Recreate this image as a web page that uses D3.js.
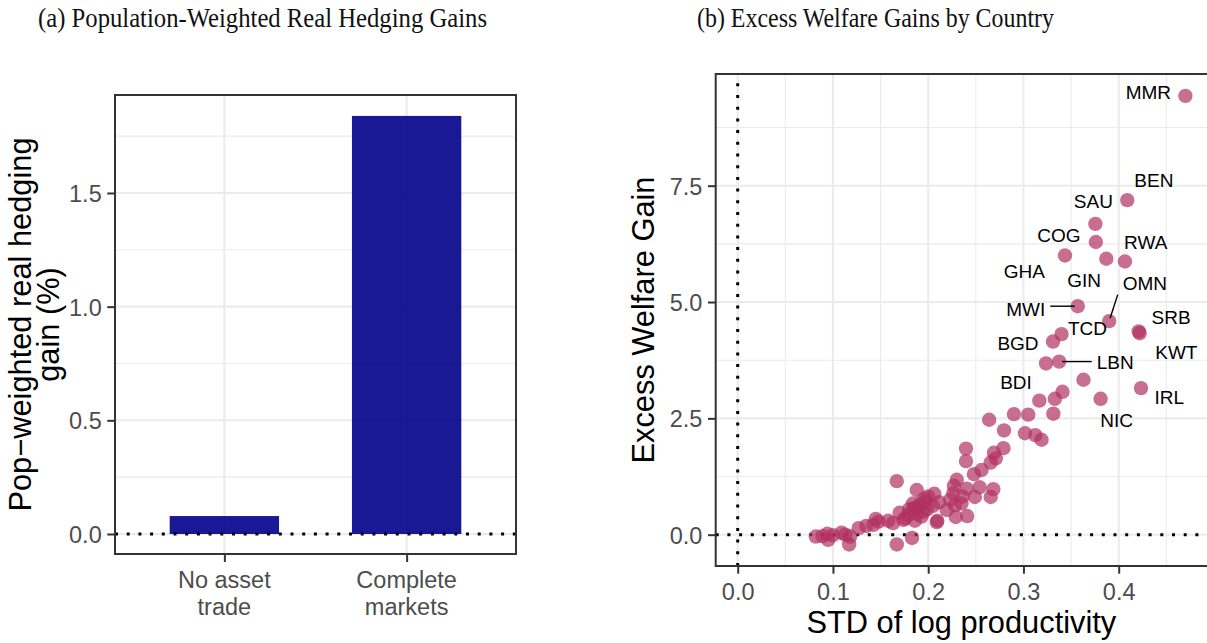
<!DOCTYPE html>
<html>
<head>
<meta charset="utf-8">
<script src="https://cdn.jsdelivr.net/npm/d3@7"></script>
<style>
  html, body { margin: 0; padding: 0; background: #ffffff; }
  svg { display: block; }
</style>
</head>
<body>
<svg id="chart" width="1207" height="643"></svg>
<script>
// ---- Panel (a): population-weighted real hedging gain ----
const barCategories = ["No asset trade", "Complete markets"];
const barLabelLines = [["No asset", "trade"], ["Complete", "markets"]];
const barValues = [0.079, 1.839];
const barTicks = [0, 0.5, 1.0, 1.5];
const barMinorTicks = [0.25, 0.75, 1.25, 1.75];

// ---- Panel (b): excess welfare gain by country ----
const countryCode = [
  "MMR", "BEN", "SAU", "COG", "GHA", "GIN", "RWA", "MWI", "OMN", "SRB",
  "KWT", "TCD", "BGD", "LBN", "BDI", "", "IRL", "", "", "",
  "NIC", "", "", "", "", "", "", "", "", "",
  "", "", "", "", "", "", "", "", "", "",
  "", "", "", "", "", "", "", "", "", "",
  "", "", "", "", "", "", "", "", "", "",
  "", "", "", "", "", "", "", "", "", "",
  "", "", "", "", "", "", "", "", "", "",
  "", "", "", "", "", "", "", "", "", "",
  "", "", "", "", ""
];
const countryStd = [
  0.470, 0.409, 0.3755, 0.376, 0.3436, 0.387, 0.4066, 0.357, 0.390, 0.421,
  0.422, 0.340, 0.331, 0.3375, 0.3237, 0.363, 0.4234, 0.341, 0.333, 0.3167,
  0.381, 0.290, 0.305, 0.3314, 0.264, 0.2796, 0.3016, 0.3125, 0.319, 0.2397,
  0.2397, 0.279, 0.269, 0.271, 0.2656, 0.256, 0.248, 0.230, 0.227, 0.2404,
  0.254, 0.2684, 0.2656, 0.249, 0.236, 0.2264, 0.223, 0.228, 0.235, 0.229,
  0.241, 0.2064, 0.2115, 0.2096, 0.2194, 0.188, 0.196, 0.167, 0.200, 0.197,
  0.190, 0.184, 0.184, 0.179, 0.174, 0.193, 0.195, 0.170, 0.158, 0.163,
  0.148, 0.145, 0.1424, 0.135, 0.127, 0.118, 0.117, 0.109, 0.100, 0.094,
  0.095, 0.082, 0.167, 0.183, 0.186, 0.192, 0.188, 0.199, 0.180, 0.205,
  0.209, 0.176, 0.186, 0.113, 0.089
];
const countryGain = [
  9.43, 7.19, 6.68, 6.29, 6.00, 5.93, 5.87, 4.91, 4.59, 4.37,
  4.33, 4.31, 4.15, 3.72, 3.68, 3.33, 3.15, 3.07, 2.92, 2.88,
  2.92, 2.59, 2.58, 2.60, 2.47, 2.24, 2.18, 2.14, 2.04, 1.85,
  1.58, 1.86, 1.76, 1.64, 1.55, 1.39, 1.30, 1.18, 1.05, 0.99,
  1.02, 0.98, 0.81, 0.81, 0.82, 0.89, 0.75, 0.63, 0.67, 0.38,
  0.40, 0.88, 0.70, 0.30, 0.53, 0.96, 0.78, 1.15, 0.82, 0.71,
  0.60, 0.67, 0.53, 0.42, 0.32, 0.39, 0.49, 0.47, 0.30, 0.25,
  0.28, 0.34, 0.21, 0.19, 0.14, -0.04, -0.21, 0.04, -0.01, 0.02,
  -0.11, -0.04, -0.21, -0.07, 0.58, 0.66, 0.45, 0.55, 0.55, 0.62,
  0.27, 0.35, 0.30, 0.00, -0.03
];
const stdTicks = [0, 0.1, 0.2, 0.3, 0.4];
const stdMinorTicks = [0.05, 0.15, 0.25, 0.35, 0.45];
const gainTicks = [0, 2.5, 5.0, 7.5];
const gainMinorTicks = [1.25, 3.75, 6.25, 8.75];

// Pixel offsets of each country label from its point (label placement)
const labelNudge = {
  MMR: [-37, -3.6], BEN: [26.6, -20.3], SAU: [-2, -22.3], COG: [-37, -7],
  GHA: [-40.7, 15.7], GIN: [-22.3, 21], RWA: [20.7, -19.3], OMN: [35.7, -38.3],
  MWI: [-52, 2.6], SRB: [32.4, -14], KWT: [36.7, 18.7], TCD: [26, -5.6],
  BGD: [-35, 1.6], LBN: [56, 0.7], BDI: [-30, 18.4], IRL: [28.3, 9.4],
  NIC: [16, 21]
};

const svg = d3.select("#chart");
const fmt = d3.format(".1f");
const GRID = "#EBEBEB";
const BORDER = "#333333";
const TICKTEXT = "#4D4D4D";
const SANS = "'Liberation Sans', Arial, sans-serif";
const SERIF = "'Liberation Serif', 'DejaVu Serif', serif";

svg.append("rect").attr("width", 1207).attr("height", 643).attr("fill", "#fff");

function styleAxis(g, fontSize) {
  g.select(".domain").remove();
  g.selectAll(".tick line").attr("stroke", BORDER).attr("stroke-width", 2);
  g.selectAll(".tick text")
    .attr("fill", TICKTEXT)
    .attr("font-family", SANS)
    .attr("font-size", fontSize);
}

// ================= Panel (a) =================
const A = { left: 115, right: 516, top: 95, bottom: 554 };
const xA = d3.scalePoint().domain(barCategories).range([A.left, A.right]).padding(0.6);
const yA = d3.scaleLinear().domain([-0.088, 1.931]).range([A.bottom, A.top]);
const barW = xA.step() * 0.6;

svg.append("text")
  .attr("x", 38).attr("y", 27)
  .attr("font-family", SERIF).attr("font-size", 28)
  .attr("textLength", 449).attr("lengthAdjust", "spacingAndGlyphs")
  .attr("fill", "#111")
  .text("(a) Population-Weighted Real Hedging Gains");

const gA = svg.append("g");
// grid
gA.selectAll(".minorA").data(barMinorTicks).join("line")
  .attr("x1", A.left).attr("x2", A.right)
  .attr("y1", d => yA(d)).attr("y2", d => yA(d))
  .attr("stroke", GRID).attr("stroke-width", 1.1);
gA.selectAll(".majorA").data(barTicks).join("line")
  .attr("x1", A.left).attr("x2", A.right)
  .attr("y1", d => yA(d)).attr("y2", d => yA(d))
  .attr("stroke", GRID).attr("stroke-width", 2.1);
gA.selectAll(".vmajorA").data(barCategories).join("line")
  .attr("x1", d => xA(d)).attr("x2", d => xA(d))
  .attr("y1", A.top).attr("y2", A.bottom)
  .attr("stroke", GRID).attr("stroke-width", 2.1);

// bars
gA.selectAll(".bar").data(barValues).join("rect")
  .attr("x", (d, i) => xA(barCategories[i]) - barW / 2)
  .attr("width", barW)
  .attr("y", d => yA(d))
  .attr("height", d => yA(0) - yA(d))
  .attr("fill", "#00008B").attr("fill-opacity", 0.9);

// zero reference line
gA.append("line")
  .attr("x1", A.left).attr("x2", A.right)
  .attr("y1", yA(0)).attr("y2", yA(0))
  .attr("stroke", "#000").attr("stroke-width", 3)
  .attr("stroke-dasharray", "3 8.7");

gA.append("rect")
  .attr("x", A.left).attr("y", A.top)
  .attr("width", A.right - A.left).attr("height", A.bottom - A.top)
  .attr("fill", "none").attr("stroke", BORDER).attr("stroke-width", 2);

// y axis
const yAxisA = svg.append("g").attr("transform", `translate(${A.left},0)`)
  .call(d3.axisLeft(yA).tickValues(barTicks).tickFormat(fmt).tickSize(7.7).tickPadding(5.6).tickSizeOuter(0));
styleAxis(yAxisA, 23.5);
yAxisA.selectAll(".tick text").attr("dy", "0.36em");

// x axis (two-line category labels)
const xAxisA = svg.append("g").attr("transform", `translate(0,${A.bottom})`)
  .call(d3.axisBottom(xA).tickSize(8).tickFormat("").tickSizeOuter(0));
styleAxis(xAxisA, 23.5);
xAxisA.selectAll(".tick text").remove();
barCategories.forEach((c, i) => {
  barLabelLines[i].forEach((line, j) => {
    svg.append("text")
      .attr("x", xA(c)).attr("y", 588.3 + j * 26.7)
      .attr("text-anchor", "middle")
      .attr("font-family", SANS).attr("font-size", 23.5)
      .attr("fill", TICKTEXT)
      .text(line);
  });
});

// y title
const yTitleA = ["Pop\u2212weighted real hedging", "gain (%)"];
yTitleA.forEach((line, j) => {
  svg.append("text")
    .attr("transform", `translate(${31 + j * 27.7},${(A.top + A.bottom) / 2}) rotate(-90)`)
    .attr("text-anchor", "middle")
    .attr("font-family", SANS).attr("font-size", 30.8)
    .attr("fill", "#000")
    .text(line);
});

// ================= Panel (b) =================
const B = { left: 715.7, right: 1209, top: 74, bottom: 566 };
const xB = d3.scaleLinear().domain([-0.0231, 0.4948]).range([B.left, B.right]);
const yB = d3.scaleLinear().domain([-0.673, 9.90]).range([B.bottom, B.top]);

svg.append("text")
  .attr("x", 697).attr("y", 27)
  .attr("font-family", SERIF).attr("font-size", 28)
  .attr("textLength", 357).attr("lengthAdjust", "spacingAndGlyphs")
  .attr("fill", "#111")
  .text("(b) Excess Welfare Gains by Country");

const gB = svg.append("g");
gB.selectAll(".hminorB").data(gainMinorTicks).join("line")
  .attr("x1", B.left).attr("x2", B.right)
  .attr("y1", d => yB(d)).attr("y2", d => yB(d))
  .attr("stroke", GRID).attr("stroke-width", 1.1);
gB.selectAll(".vminorB").data(stdMinorTicks).join("line")
  .attr("x1", d => xB(d)).attr("x2", d => xB(d))
  .attr("y1", B.top).attr("y2", B.bottom)
  .attr("stroke", GRID).attr("stroke-width", 1.1);
gB.selectAll(".hmajorB").data(gainTicks).join("line")
  .attr("x1", B.left).attr("x2", B.right)
  .attr("y1", d => yB(d)).attr("y2", d => yB(d))
  .attr("stroke", GRID).attr("stroke-width", 2.1);
gB.selectAll(".vmajorB").data(stdTicks).join("line")
  .attr("x1", d => xB(d)).attr("x2", d => xB(d))
  .attr("y1", B.top).attr("y2", B.bottom)
  .attr("stroke", GRID).attr("stroke-width", 2.1);

// reference lines at zero
gB.append("line")
  .attr("x1", B.left).attr("x2", B.right)
  .attr("y1", yB(0)).attr("y2", yB(0))
  .attr("stroke", "#000").attr("stroke-width", 3)
  .attr("stroke-dasharray", "3 8.7");
gB.append("line")
  .attr("x1", xB(0)).attr("x2", xB(0))
  .attr("y1", B.bottom).attr("y2", B.top)
  .attr("stroke", "#000").attr("stroke-width", 3)
  .attr("stroke-dasharray", "3 8.7");

// points
const pts = countryStd.map((s, i) => ({ code: countryCode[i], x: s, y: countryGain[i] }));
gB.selectAll(".pt").data(pts).join("circle")
  .attr("cx", d => xB(d.x)).attr("cy", d => yB(d.y))
  .attr("r", 7.2)
  .attr("fill", "#B03060").attr("fill-opacity", 0.7);

// country labels with leader segments where the label sits far from its point
const LFS = 19;
const measure = svg.append("text").attr("font-family", SANS).attr("font-size", LFS).attr("visibility", "hidden");
pts.filter(d => d.code && labelNudge[d.code]).forEach(d => {
  const px = xB(d.x), py = yB(d.y);
  const [dx, dy] = labelNudge[d.code];
  const cx = px + dx, cy = py + dy;
  measure.text(d.code);
  const w = measure.node().getComputedTextLength();
  const h = LFS * 0.716;
  const pad = 5;
  const bx0 = cx - w / 2 - pad, bx1 = cx + w / 2 + pad;
  const by0 = cy - h / 2 - pad, by1 = cy + h / 2 + pad;
  const nx = Math.max(bx0, Math.min(px, bx1));
  const ny = Math.max(by0, Math.min(py, by1));
  const dist = Math.hypot(nx - px, ny - py);
  if (dist > 25) {
    const ux = (nx - px) / dist, uy = (ny - py) / dist;
    gB.append("line")
      .attr("x1", nx).attr("y1", ny)
      .attr("x2", px + ux * 3).attr("y2", py + uy * 3)
      .attr("stroke", "#000").attr("stroke-width", 1.4);
  }
  gB.append("text")
    .attr("x", cx).attr("y", cy + LFS * 0.358)
    .attr("text-anchor", "middle")
    .attr("font-family", SANS).attr("font-size", LFS)
    .attr("fill", "#000")
    .text(d.code);
});
measure.remove();

gB.append("rect")
  .attr("x", B.left).attr("y", B.top)
  .attr("width", B.right - B.left).attr("height", B.bottom - B.top)
  .attr("fill", "none").attr("stroke", BORDER).attr("stroke-width", 2);

const yAxisB = svg.append("g").attr("transform", `translate(${B.left},0)`)
  .call(d3.axisLeft(yB).tickValues(gainTicks).tickFormat(fmt).tickSize(7.7).tickPadding(5.6).tickSizeOuter(0));
styleAxis(yAxisB, 23.5);
yAxisB.selectAll(".tick text").attr("dy", "0.36em");

const xAxisB = svg.append("g").attr("transform", `translate(0,${B.bottom})`)
  .call(d3.axisBottom(xB).tickValues(stdTicks).tickFormat(fmt).tickSize(7.7).tickPadding(9.5).tickSizeOuter(0));
styleAxis(xAxisB, 23.5);

svg.append("text")
  .attr("x", (B.left + 1207) / 2).attr("y", 633)
  .attr("text-anchor", "middle")
  .attr("font-family", SANS).attr("font-size", 30.8)
  .attr("fill", "#000")
  .text("STD of log productivity");

svg.append("text")
  .attr("transform", `translate(654,${(B.top + B.bottom) / 2}) rotate(-90)`)
  .attr("text-anchor", "middle")
  .attr("font-family", SANS).attr("font-size", 30.8)
  .attr("fill", "#000")
  .text("Excess Welfare Gain");
</script>
</body>
</html>
